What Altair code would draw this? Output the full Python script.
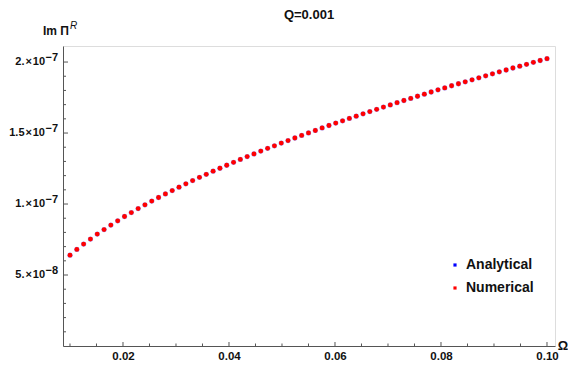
import altair as alt
import pandas as pd

# ---- data ----
omega = [0.01, 0.01129, 0.01257, 0.01386, 0.01514, 0.01643, 0.01771, 0.019, 0.02029, 0.02157,
         0.02286, 0.02414, 0.02543, 0.02671, 0.028, 0.02929, 0.03057, 0.03186, 0.03314, 0.03443,
         0.03571, 0.037, 0.03829, 0.03957, 0.04086, 0.04214, 0.04343, 0.04471, 0.046, 0.04729,
         0.04857, 0.04986, 0.05114, 0.05243, 0.05371, 0.055, 0.05629, 0.05757, 0.05886, 0.06014,
         0.06143, 0.06271, 0.064, 0.06529, 0.06657, 0.06786, 0.06914, 0.07043, 0.07171, 0.073,
         0.07429, 0.07557, 0.07686, 0.07814, 0.07943, 0.08071, 0.082, 0.08329, 0.08457, 0.08586,
         0.08714, 0.08843, 0.08971, 0.091, 0.09229, 0.09357, 0.09486, 0.09614, 0.09743, 0.09871, 0.1]
# Im Pi^R in units of 1e-9
im_pi_e9 = [64.0, 68.0, 71.8, 75.3, 78.8, 82.0, 85.2, 88.2, 91.2, 94.0,
            96.8, 99.4, 102.1, 104.6, 107.1, 109.5, 111.9, 114.2, 116.5, 118.8,
            120.9, 123.1, 125.2, 127.3, 129.4, 131.4, 133.4, 135.3, 137.3, 139.2,
            141.0, 142.9, 144.7, 146.5, 148.3, 150.1, 151.8, 153.6, 155.3, 157.0,
            158.6, 160.3, 161.9, 163.5, 165.1, 166.7, 168.3, 169.8, 171.4, 172.9,
            174.4, 175.9, 177.4, 178.9, 180.4, 181.8, 183.3, 184.7, 186.1, 187.5,
            188.9, 190.3, 191.7, 193.1, 194.4, 195.8, 197.1, 198.4, 199.8, 201.1, 202.4]
series_names = ["Analytical", "Numerical"]
series_colors = ["#0000ff", "#ff0000"]

x_major = [0.02, 0.04, 0.06, 0.08, 0.10]
x_minor = [0.01, 0.015, 0.025, 0.03, 0.035, 0.045, 0.05, 0.055, 0.065, 0.07, 0.075,
           0.085, 0.09, 0.095]
y_major = [5e-8, 1e-7, 1.5e-7, 2e-7]
y_major_base = ["5.\u200a\u00d7\u200a10", "1.\u200a\u00d7\u200a10", "1.5\u200a\u00d7\u200a10", "2.\u200a\u00d7\u200a10"]
y_major_exp = ["\u22128", "\u22127", "\u22127", "\u22127"]
y_minor = [1e-8, 2e-8, 3e-8, 4e-8, 6e-8, 7e-8, 8e-8, 9e-8, 1.1e-7, 1.2e-7, 1.3e-7, 1.4e-7,
           1.6e-7, 1.7e-7, 1.8e-7, 1.9e-7]

title_text = "Q=0.001"
x_title = "\u03a9"
y_title_main = "Im \u03a0"
y_title_sup = "R"

W, H = 492, 300
FONT = "Liberation Sans"
AX = "#555555"
TXT = "#111111"

y_vals = [v * 1e-9 for v in im_pi_e9]
df_a = pd.DataFrame({"omega": omega, "val": y_vals, "series": series_names[0]})
df_n = pd.DataFrame({"omega": omega, "val": y_vals, "series": series_names[1]})

xs = alt.Scale(domain=[0.00868, 0.10151], nice=False, zero=False)
ys = alt.Scale(domain=[0, 2.113e-7], nice=False, zero=False)

color = alt.Color("series:N",
                  scale=alt.Scale(domain=series_names, range=series_colors),
                  legend=alt.Legend(title=None, orient="none", legendX=385, legendY=212,
                                    symbolType="square", symbolSize=10, symbolStrokeWidth=0,
                                    symbolOpacity=1,
                                    labelFont=FONT, labelFontWeight="bold", labelFontSize=14,
                                    labelColor=TXT, labelOffset=4, rowPadding=9,
                                    padding=0))

pts_a = alt.Chart(df_a).mark_circle(size=28, opacity=0.35).encode(
    x=alt.X("omega:Q", scale=xs,
            axis=alt.Axis(values=x_major, format=".2f", ticks=False, grid=False,
                          domainColor=AX, labelFont=FONT, labelFontWeight="bold",
                          labelFontSize=11.5, labelColor=TXT, labelPadding=4,
                          title=None)),
    y=alt.Y("val:Q", scale=ys,
            axis=alt.Axis(labels=False, ticks=False, grid=False, domainColor=AX, title=None)),
    color=color,
)
pts_n = alt.Chart(df_n).mark_circle(size=23, opacity=1).encode(
    x=alt.X("omega:Q", scale=xs), y=alt.Y("val:Q", scale=ys), color=color)

xt_major = alt.Chart(pd.DataFrame({"v": x_major})).mark_rule(color=AX).encode(
    x=alt.X("v:Q", scale=xs), y=alt.value(H), y2=alt.value(H - 4))
xt_minor = alt.Chart(pd.DataFrame({"v": x_minor})).mark_rule(color=AX).encode(
    x=alt.X("v:Q", scale=xs), y=alt.value(H), y2=alt.value(H - 2.5))
yt_major = alt.Chart(pd.DataFrame({"v": y_major})).mark_rule(color=AX).encode(
    y=alt.Y("v:Q", scale=ys), x=alt.value(0), x2=alt.value(5))
yt_minor = alt.Chart(pd.DataFrame({"v": y_minor})).mark_rule(color=AX).encode(
    y=alt.Y("v:Q", scale=ys), x=alt.value(0), x2=alt.value(3))

ylab_df = pd.DataFrame({"v": y_major, "base": y_major_base, "exp": y_major_exp})
ylab_base = alt.Chart(ylab_df).mark_text(align="right", baseline="middle", font=FONT,
                                         fontWeight="bold", fontSize=11, color=TXT).encode(
    y=alt.Y("v:Q", scale=ys), x=alt.value(-18), text="base:N")
ylab_exp = alt.Chart(ylab_df).mark_text(align="left", baseline="middle", font=FONT,
                                        fontWeight="bold", fontSize=11, color=TXT,
                                        dy=-4).encode(
    y=alt.Y("v:Q", scale=ys), x=alt.value(-17.5), text="exp:N")

ytitle = alt.Chart(pd.DataFrame({"t": [y_title_main]})).mark_text(
    align="right", baseline="alphabetic", font=FONT, fontWeight="bold", fontSize=12,
    color=TXT).encode(x=alt.value(6), y=alt.value(-11), text="t:N")
ytitle_sup = alt.Chart(pd.DataFrame({"t": [y_title_sup]})).mark_text(
    align="left", baseline="alphabetic", font=FONT, fontStyle="italic", fontSize=10,
    color=TXT).encode(x=alt.value(7), y=alt.value(-17.5), text="t:N")
xtitle = alt.Chart(pd.DataFrame({"t": [x_title]})).mark_text(
    align="center", baseline="middle", font=FONT, fontWeight="bold", fontSize=13,
    color=TXT).encode(x=alt.value(W + 8), y=alt.value(H), text="t:N")
title = alt.Chart(pd.DataFrame({"t": [title_text]})).mark_text(
    align="center", baseline="alphabetic", font=FONT, fontWeight="bold", fontSize=13,
    color=TXT).encode(x=alt.value(W / 2), y=alt.value(-27.5), text="t:N")

chart = alt.layer(
    xt_minor, xt_major, yt_minor, yt_major, pts_a, pts_n,
    ylab_base, ylab_exp, ytitle, ytitle_sup, xtitle, title,
).properties(
    width=W, height=H,
    autosize=alt.AutoSizeParams(type="none"),
    padding={"left": 55, "top": 38, "right": 13, "bottom": 15},
).configure_view(strokeWidth=0).configure(background="white")

chart.save("out.html", embed_options={"renderer": "svg", "actions": False})
